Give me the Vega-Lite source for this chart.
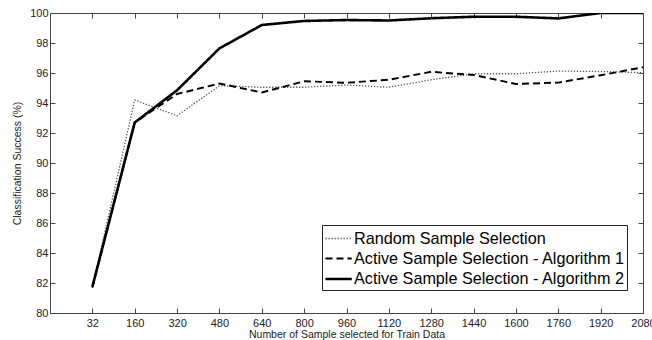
{
  "$schema": "https://vega.github.io/schema/vega-lite/v6.json",
  "width": 593,
  "height": 300,
  "autosize": {"type": "none"},
  "padding": {"left": 50, "top": 13, "right": 9, "bottom": 27},
  "background": "white",
  "config": {
    "font": "Liberation Sans",
    "view": {"stroke": "#444", "strokeWidth": 1},
    "axis": {"grid": false, "domain": false, "tickColor": "#444", "tickSize": -5, "labelColor": "#222", "labelFontSize": 11, "titleFontSize": 10.5, "titleFontWeight": "normal", "titleColor": "#222"}
  },
  "data": {"values": [
    {"idx": 1, "samples": 32, "series": "Random Sample Selection", "success": 81.7},
    {"idx": 2, "samples": 160, "series": "Random Sample Selection", "success": 94.2},
    {"idx": 3, "samples": 320, "series": "Random Sample Selection", "success": 93.15},
    {"idx": 4, "samples": 480, "series": "Random Sample Selection", "success": 95.15},
    {"idx": 5, "samples": 640, "series": "Random Sample Selection", "success": 95.05},
    {"idx": 6, "samples": 800, "series": "Random Sample Selection", "success": 95.05},
    {"idx": 7, "samples": 960, "series": "Random Sample Selection", "success": 95.2},
    {"idx": 8, "samples": 1120, "series": "Random Sample Selection", "success": 95.05},
    {"idx": 9, "samples": 1280, "series": "Random Sample Selection", "success": 95.55},
    {"idx": 10, "samples": 1440, "series": "Random Sample Selection", "success": 95.95},
    {"idx": 11, "samples": 1600, "series": "Random Sample Selection", "success": 95.95},
    {"idx": 12, "samples": 1760, "series": "Random Sample Selection", "success": 96.13},
    {"idx": 13, "samples": 1920, "series": "Random Sample Selection", "success": 96.1},
    {"idx": 14, "samples": 2080, "series": "Random Sample Selection", "success": 96.02},
    {"idx": 1, "samples": 32, "series": "Active Sample Selection - Algorithm 1", "success": 81.7},
    {"idx": 2, "samples": 160, "series": "Active Sample Selection - Algorithm 1", "success": 92.7},
    {"idx": 3, "samples": 320, "series": "Active Sample Selection - Algorithm 1", "success": 94.6},
    {"idx": 4, "samples": 480, "series": "Active Sample Selection - Algorithm 1", "success": 95.3},
    {"idx": 5, "samples": 640, "series": "Active Sample Selection - Algorithm 1", "success": 94.7},
    {"idx": 6, "samples": 800, "series": "Active Sample Selection - Algorithm 1", "success": 95.45},
    {"idx": 7, "samples": 960, "series": "Active Sample Selection - Algorithm 1", "success": 95.35},
    {"idx": 8, "samples": 1120, "series": "Active Sample Selection - Algorithm 1", "success": 95.55},
    {"idx": 9, "samples": 1280, "series": "Active Sample Selection - Algorithm 1", "success": 96.08},
    {"idx": 10, "samples": 1440, "series": "Active Sample Selection - Algorithm 1", "success": 95.87},
    {"idx": 11, "samples": 1600, "series": "Active Sample Selection - Algorithm 1", "success": 95.27},
    {"idx": 12, "samples": 1760, "series": "Active Sample Selection - Algorithm 1", "success": 95.36},
    {"idx": 13, "samples": 1920, "series": "Active Sample Selection - Algorithm 1", "success": 95.85},
    {"idx": 14, "samples": 2080, "series": "Active Sample Selection - Algorithm 1", "success": 96.38},
    {"idx": 1, "samples": 32, "series": "Active Sample Selection - Algorithm 2", "success": 81.75},
    {"idx": 2, "samples": 160, "series": "Active Sample Selection - Algorithm 2", "success": 92.7},
    {"idx": 3, "samples": 320, "series": "Active Sample Selection - Algorithm 2", "success": 94.85},
    {"idx": 4, "samples": 480, "series": "Active Sample Selection - Algorithm 2", "success": 97.64},
    {"idx": 5, "samples": 640, "series": "Active Sample Selection - Algorithm 2", "success": 99.2},
    {"idx": 6, "samples": 800, "series": "Active Sample Selection - Algorithm 2", "success": 99.47},
    {"idx": 7, "samples": 960, "series": "Active Sample Selection - Algorithm 2", "success": 99.53},
    {"idx": 8, "samples": 1120, "series": "Active Sample Selection - Algorithm 2", "success": 99.5},
    {"idx": 9, "samples": 1280, "series": "Active Sample Selection - Algorithm 2", "success": 99.65},
    {"idx": 10, "samples": 1440, "series": "Active Sample Selection - Algorithm 2", "success": 99.75},
    {"idx": 11, "samples": 1600, "series": "Active Sample Selection - Algorithm 2", "success": 99.75},
    {"idx": 12, "samples": 1760, "series": "Active Sample Selection - Algorithm 2", "success": 99.64},
    {"idx": 13, "samples": 1920, "series": "Active Sample Selection - Algorithm 2", "success": 100},
    {"idx": 14, "samples": 2080, "series": "Active Sample Selection - Algorithm 2", "success": 100}
  ]},
  "layer": [
    {
      "mark": {"type": "line", "clip": true},
      "encoding": {
        "x": {"field": "idx", "type": "quantitative", "scale": {"domain": [0, 14], "nice": false, "zero": false},
          "axis": {"orient": "bottom", "values": [1,2,3,4,5,6,7,8,9,10,11,12,13,14], "labelPadding": 9, "labelFlush": false,
            "labelExpr": "['','32','160','320','480','640','800','960','1120','1280','1440','1600','1760','1920','2080'][datum.value]",
            "title": "Number of Sample selected for Train Data", "titlePadding": 1}},
        "y": {"field": "success", "type": "quantitative", "scale": {"domain": [80, 100], "nice": false, "zero": false},
          "axis": {"orient": "left", "values": [80,82,84,86,88,90,92,94,96,98,100], "labelPadding": 7, "title": "Classification Success (%)", "titlePadding": 7}},
        "color": {"field": "series", "type": "nominal",
          "scale": {"domain": ["Random Sample Selection", "Active Sample Selection - Algorithm 1", "Active Sample Selection - Algorithm 2"], "range": ["#555", "#000", "#000"]},
          "legend": {"title": null, "orient": "none", "legendX": 272, "legendY": 212, "symbolType": "M-1,0H1.5", "symbolSize": 441,
            "labelFontSize": 16.2, "labelLimit": 400, "labelColor": "#000", "labelOffset": 6, "strokeColor": "#222", "fillColor": "white", "padding": 2, "rowPadding": 0, "cornerRadius": 0}},
        "strokeDash": {"field": "series", "type": "nominal",
          "scale": {"domain": ["Random Sample Selection", "Active Sample Selection - Algorithm 1", "Active Sample Selection - Algorithm 2"], "range": [[1.3, 1.7], [7, 4], [1, 0]]},
          "legend": {"title": null}},
        "strokeWidth": {"field": "series", "type": "nominal",
          "scale": {"domain": ["Random Sample Selection", "Active Sample Selection - Algorithm 1", "Active Sample Selection - Algorithm 2"], "range": [1.3, 2.6, 2.6]},
          "legend": {"title": null}}
      }
    },
    {
      "mark": {"type": "line", "opacity": 0},
      "encoding": {
        "x": {"field": "idx", "type": "quantitative", "axis": {"orient": "top", "values": [1,2,3,4,5,6,7,8,9,10,11,12,13,14], "labels": false, "title": null}},
        "y": {"field": "success", "type": "quantitative", "axis": {"orient": "right", "values": [80,82,84,86,88,90,92,94,96,98,100], "labels": false, "title": null}},
        "detail": {"field": "series"}
      }
    }
  ],
  "resolve": {"axis": {"x": "independent", "y": "independent"}}
}
